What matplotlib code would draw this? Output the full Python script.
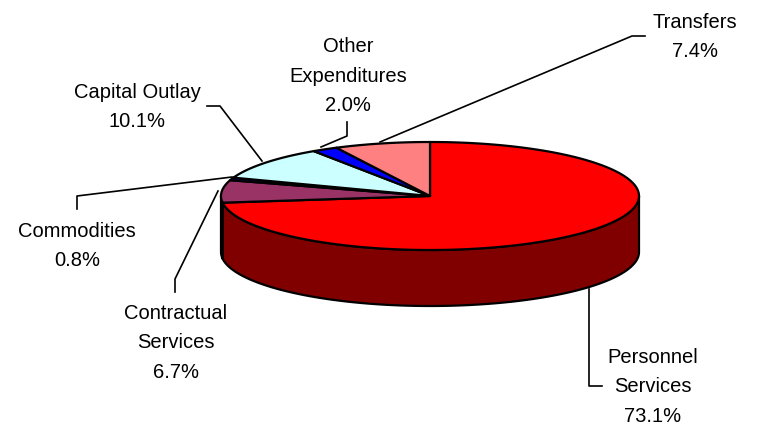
import numpy as np
import matplotlib.pyplot as plt
from matplotlib.patches import Polygon

plt.rcParams['font.family'] = ['Liberation Sans', 'DejaVu Sans']

# slices, clockwise from 12 o'clock
names = ["Personnel\nServices", "Contractual\nServices", "Commodities",
         "Capital Outlay", "Other\nExpenditures", "Transfers"]
pcts = [73.1, 6.7, 0.8, 10.1, 2.0, 7.4]
top_colors = ["#FF0000", "#993366", "#000080", "#CCFFFF", "#0000FF", "#FF8080"]
side_colors = ["#800000", "#4C1A33", "#000040", "#66A0A0", "#000080", "#804040"]

# label centres and leader lines (pixel layout)
label_xy = [(653, 387), (176, 343), (77, 246), (137, 107), (348, 76), (695, 37)]
leaders = [
    [(602, 387), (589, 387), (589, 290)],
    [(175, 293), (175, 280), (218, 192)],
    [(77, 210), (77, 197), (232, 178)],
    [(207, 107), (220, 107), (262, 162)],
    [(347, 123), (347, 137), (321, 148)],
    [(645, 37), (632, 37), (380, 143)],
]

cx, cy, rx, ry, depth = 430, 197, 209, 54, 56

fig = plt.figure(figsize=(7.57, 4.27), dpi=100)
ax = fig.add_axes([0, 0, 1, 1])
ax.set_xlim(0, 757)
ax.set_ylim(427, 0)
ax.axis("off")


def arc(a, b, dy=0):
    t = np.radians(np.linspace(a, b, max(int(abs(b - a) * 2), 2)))
    return np.column_stack([cx + rx * np.sin(t), cy - ry * np.cos(t) + dy])


total = sum(pcts)
edges = np.concatenate([[0], np.cumsum(pcts) / total * 360])

# side walls (only the front half is visible)
for i in range(len(pcts)):
    lo, hi = max(edges[i], 90), min(edges[i + 1], 270)
    if lo < hi:
        pts = np.vstack([arc(lo, hi), arc(hi, lo, depth)])
        ax.add_patch(Polygon(pts, closed=True, fc=side_colors[i], ec="black", lw=1.6, joinstyle="round"))

# top faces
for i in range(len(pcts)):
    pts = np.vstack([[cx, cy], arc(edges[i], edges[i + 1])])
    ax.add_patch(Polygon(pts, closed=True, fc=top_colors[i], ec="black", lw=1.6, joinstyle="round"))

for i in range(len(pcts)):
    xs, ys = zip(*leaders[i])
    ax.plot(xs, ys, color="black", lw=1.2)
    ax.text(label_xy[i][0], label_xy[i][1], "%s\n%.1f%%" % (names[i], pcts[i]),
            ha="center", va="center", fontsize=14.5, linespacing=1.7)

fig.savefig("out.png", dpi=100)
